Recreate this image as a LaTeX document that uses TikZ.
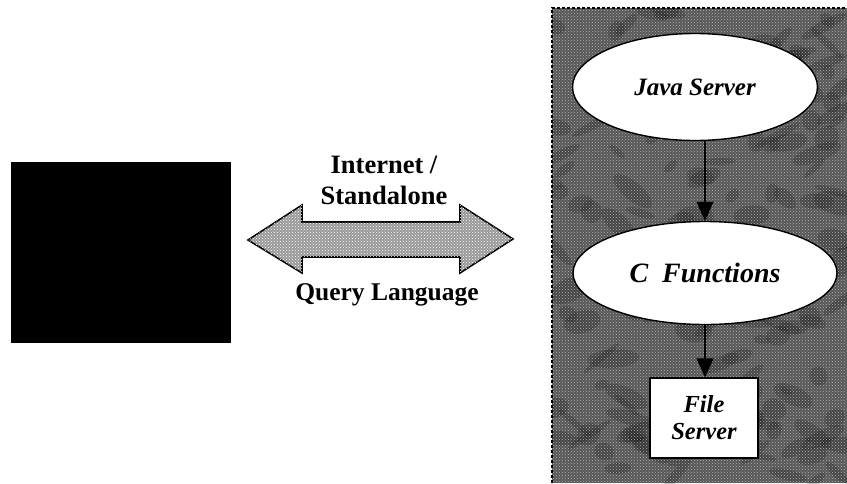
\documentclass[tikz,border=0pt]{standalone}
\usepackage{fontspec}
\setmainfont{Liberation Serif}
\usetikzlibrary{arrows.meta,patterns,shapes.geometric}
\begin{document}
\begin{tikzpicture}[x=1pt,y=-1pt,
  lbl/.style={font=\fontsize{26.5}{31}\selectfont\bfseries, align=center},
  proc/.style={ellipse, draw=black, line width=1.4pt, fill=white, inner sep=0pt,
    font=\fontsize{25}{30}\selectfont\bfseries\itshape},
  filebox/.style={rectangle, draw=black, line width=1.4pt, fill=white, inner sep=0pt,
    align=center, font=\fontsize{24.5}{29}\selectfont\bfseries\itshape},
  flow/.style={line width=1.2pt, -{Triangle[length=19pt,width=17pt]}}]
\useasboundingbox (0,0) rectangle (847,483);

% client screen
\node[fill=black, minimum width=220pt, minimum height=181pt, inner sep=0pt] (client) at (121,252.5) {};

% server side panel with grainy, mottled texture
\fill[black!66] (552,8) rectangle (847,483);
\begin{scope}
  \clip (552,8) rectangle (847,483);
  \pgfmathsetseed{4711}
  \foreach \i in {1,...,140}{
    \pgfmathsetmacro{\px}{552+295*rnd}
    \pgfmathsetmacro{\py}{8+475*rnd}
    \pgfmathsetmacro{\rx}{6+20*rnd}
    \pgfmathsetmacro{\ry}{3+9*rnd}
    \pgfmathsetmacro{\rot}{-50+100*rnd}
    \fill[black, opacity=0.2, rotate around={\rot:(\px,\py)}] (\px,\py) ellipse ({\rx} and {\ry});
  }
\end{scope}
\fill[pattern=crosshatch dots, pattern color=white!70!black] (552,8) rectangle (847,483);
\draw[black, line width=1.6pt, dash pattern=on 3pt off 2pt] (552,483) -- (552,8) -- (847,8);
\node[minimum width=295pt, minimum height=475pt, inner sep=0pt] (panel) at (699.5,245.5) {};

% two-way link between client and server
\coordinate (ltip) at (248,240);
\coordinate (rtip) at (513,239);
\filldraw[fill=black!40, draw=black, line width=1.6pt]
  (ltip) -- (302,205) -- (302,222) -- (460,222) -- (460,205) -- (rtip)
  -- (460,273) -- (460,257) -- (302,257) -- (302,273) -- cycle;
\fill[pattern=crosshatch dots, pattern color=white]
  (ltip) -- (302,205) -- (302,222) -- (460,222) -- (460,205) -- (rtip)
  -- (460,273) -- (460,257) -- (302,257) -- (302,273) -- cycle;

\node[lbl] (inet) at (384,180) {Internet /\\Standalone};
\node[lbl, font=\fontsize{25.5}{30}\selectfont\bfseries] (query) at (387,295) {Query Language};

% server components
\node[proc, minimum width=245pt, minimum height=107pt] (java) at (695,87) {Java Server};
\node[proc, minimum width=264pt, minimum height=103pt,
      font=\fontsize{28}{32}\selectfont\bfseries\itshape] (cfun) at (705,273) {C\hspace{0.5em}Functions};
\node[filebox, minimum width=108pt, minimum height=80pt] (files) at (704,418) {File\\[-2pt]Server};

\draw[flow] (java.south -| cfun.north) -- (cfun.north);
\draw[flow] (cfun.south) -- (cfun.south |- files.north);
\end{tikzpicture}
\end{document}
